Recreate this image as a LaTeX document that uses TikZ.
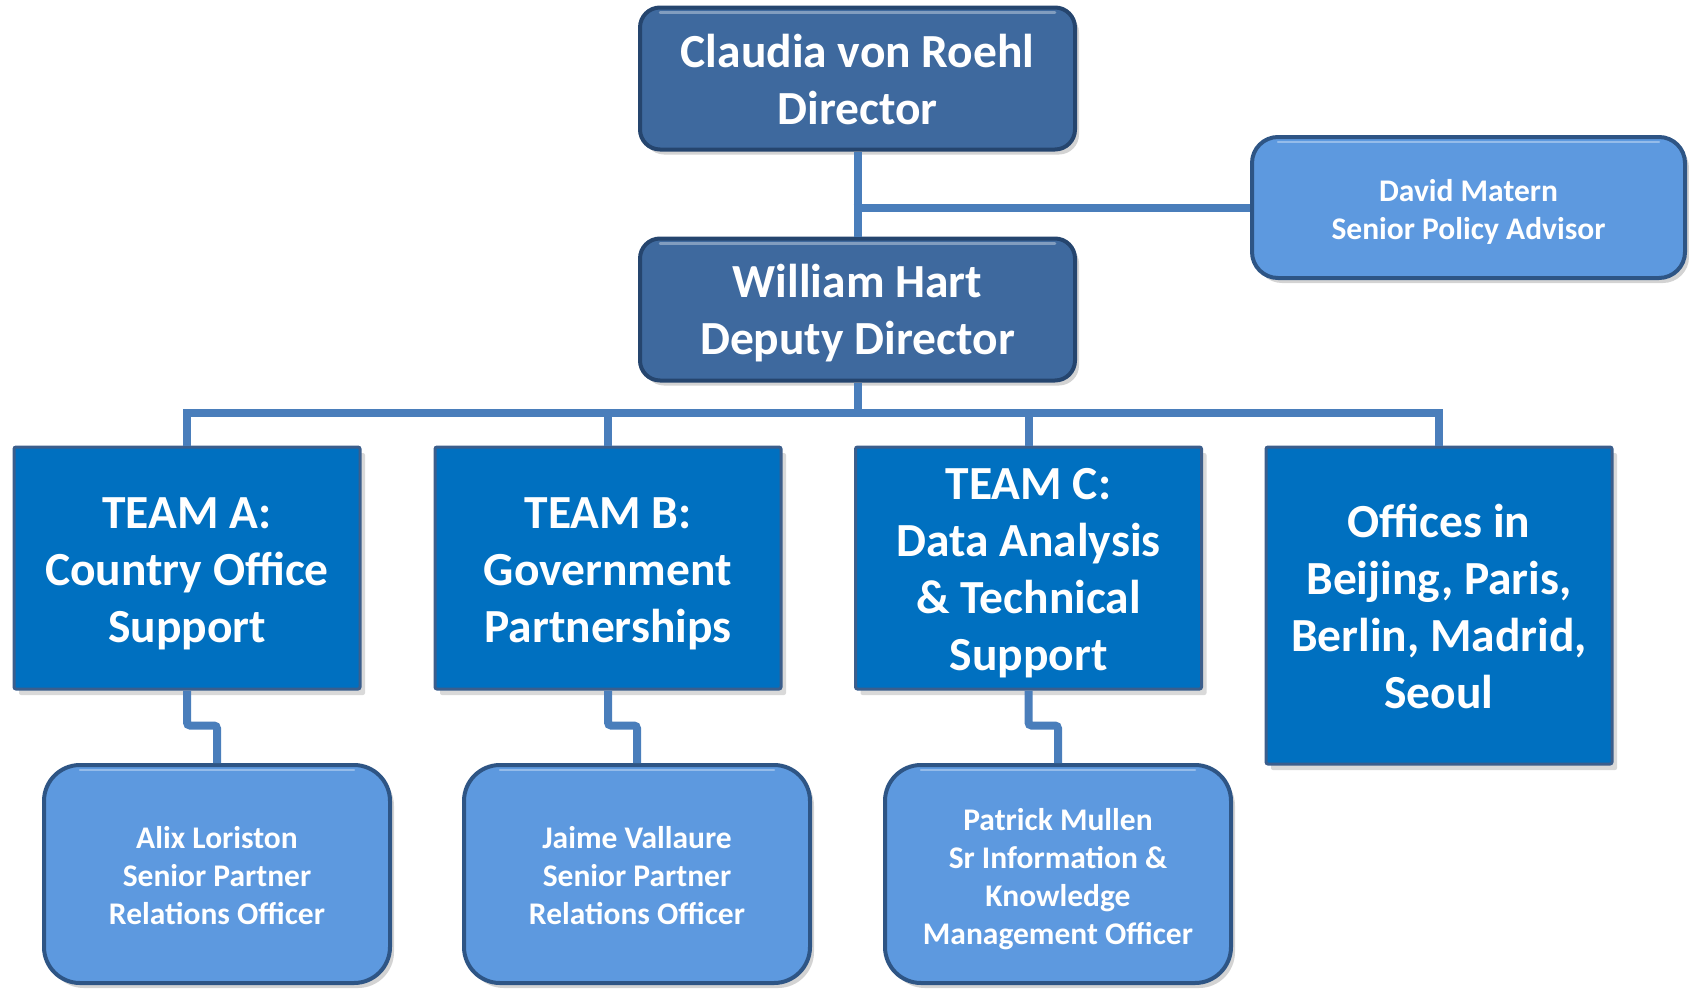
\documentclass[tikz,border=0pt]{standalone}
\usepackage{fontspec}
\setmainfont{Carlito}
\usetikzlibrary{shadows,calc}
\definecolor{darkfill}{HTML}{3E699E}
\definecolor{darkedge}{HTML}{25456E}
\definecolor{teamfill}{HTML}{0070C0}
\definecolor{teamedge}{HTML}{3B5E8C}
\definecolor{lightfill}{HTML}{5D99DF}
\definecolor{lightedge}{HTML}{2E5585}
\definecolor{conn}{HTML}{4A7EBB}
\newcommand\dnlines[2]{\raisebox{0pt}[\dimexpr\height+#1+#1\relax][\depth]{\begin{tabular}{@{}c@{}}#2\end{tabular}}}
\tikzset{
  bigtext/.style={font=\bfseries\fontsize{47.5}{57}\selectfont, text=white},
  smalltext/.style={font=\bfseries\fontsize{31.5}{38}\selectfont, text=white},
  headbox/.style={bigtext, fill=darkfill, draw=darkedge, line width=4pt, rounded corners=20pt,
    inner sep=0pt, minimum width=435pt, minimum height=142pt,
    drop shadow={shadow xshift=4pt, shadow yshift=-5pt, opacity=0.35}},
  teambox/.style={bigtext, fill=teamfill, draw=teamedge, line width=3pt, rounded corners=2pt,
    inner sep=0pt, minimum width=346pt,
    drop shadow={shadow xshift=5pt, shadow yshift=-6pt, opacity=0.3}},
  personbox/.style={smalltext, fill=lightfill, draw=lightedge, line width=4pt,
    inner sep=0pt, drop shadow={shadow xshift=4pt, shadow yshift=-5pt, opacity=0.35}},
  hilite/.style={draw=white, opacity=0.35, line width=2.5pt, line cap=round},
  link/.style={draw=conn, line width=8pt},
}
\begin{document}
\begin{tikzpicture}[x=1pt,y=-1pt]
\useasboundingbox (0,0) rectangle (1689,988);
% nodes
\node[headbox] (dir) at (857.5,78.5) {\dnlines{6pt}{Claudia von Roehl\\Director}};
\node[headbox] (dep) at (857.5,309.5) {\dnlines{5pt}{William Hart\\Deputy Director}};
\node[personbox, rounded corners=26pt, minimum width=433pt, minimum height=141pt] (dav) at (1468.5,207.5) {\dnlines{5pt}{David Matern\\Senior Policy Advisor}};
\node[teambox, minimum height=242pt] (ta) at (187,568) {\dnlines{6pt}{TEAM A:\\Country Office\\Support}};
\node[teambox, minimum height=242pt] (tb) at (608,568) {\dnlines{6pt}{TEAM B:\\Government\\Partnerships}};
\node[teambox, minimum height=242pt] (tc) at (1028.5,568) {\dnlines{6pt}{TEAM C:\\Data Analysis\\\& Technical\\Support}};
\node[teambox, minimum height=317pt] (off) at (1439,605.5) {\dnlines{6pt}{Offices in\\Beijing, Paris,\\Berlin, Madrid,\\Seoul}};
\node[personbox, rounded corners=36pt, minimum width=346pt, minimum height=218pt] (pa) at (217,874) {\dnlines{5pt}{Alix Loriston\\Senior Partner\\Relations Officer}};
\node[personbox, rounded corners=36pt, minimum width=346pt, minimum height=218pt] (pb) at (637,874) {\dnlines{5pt}{Jaime Vallaure\\Senior Partner\\Relations Officer}};
\node[personbox, rounded corners=36pt, minimum width=346pt, minimum height=218pt] (pc) at (1058,874) {\dnlines{6pt}{Patrick Mullen\\Sr Information \&\\Knowledge\\Management Officer}};
% highlights
\foreach \n/\r in {dir/22,dep/22,dav/28,pa/38,pb/38,pc/38}{
  \draw[hilite] ([xshift=\r pt,yshift=-7pt]\n.north west) -- ([xshift=-\r pt,yshift=-7pt]\n.north east);
}
% connectors
\coordinate (j1) at (dir.south |- dav.west);
\coordinate (bus) at ($(dep.south)+(0,30)$);
\draw[link] (dir.south) -- (dep.north);
\draw[link] ([xshift=-4pt]j1) -- (dav.west);
\draw[link] (dep.south) -- (bus);
\draw[link, line cap=rect] (ta.north |- bus) -- (off.north |- bus);
\foreach \t in {ta,tb,tc,off}{
  \draw[link] (\t.north |- bus) -- (\t.north);
}
\foreach \t/\p in {ta/pa,tb/pb,tc/pc}{
  \draw[link, rounded corners=3pt] (\t.south) -- ($(\t.south)+(0,35)$) -| (\p.north);
}
\end{tikzpicture}
\end{document}
